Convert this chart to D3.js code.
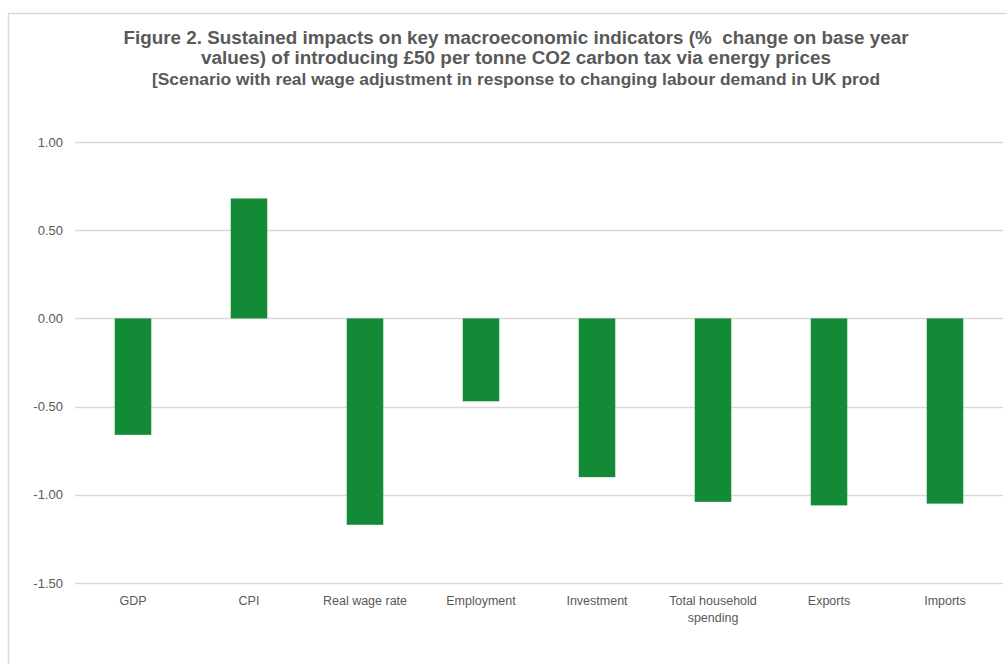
<!DOCTYPE html>
<html><head><meta charset="utf-8">
<script src="https://cdn.jsdelivr.net/npm/d3@7/dist/d3.min.js"></script>
<style>body{margin:0;background:#fff}svg{display:block}</style>
</head><body><svg id="c" width="1007" height="664"></svg>
<script>
const titleLines = [
  "Figure 2. Sustained impacts on key macroeconomic indicators (%\u00a0 change on base year",
  "values) of introducing £50 per tonne CO2 carbon tax via energy prices",
  "[Scenario with real wage adjustment in response to changing labour demand in UK prod"
];
const categories = ["GDP","CPI","Real wage rate","Employment","Investment","Total household spending","Exports","Imports"];
const categoryLines = [["GDP"],["CPI"],["Real wage rate"],["Employment"],["Investment"],["Total household","spending"],["Exports"],["Imports"]];
const values = [-0.66, 0.68, -1.17, -0.47, -0.90, -1.04, -1.06, -1.05];
const yTicks = [1.0, 0.5, 0.0, -0.5, -1.0, -1.5];

const svg = d3.select("#c");
const grey = "#595959";
// frame
svg.append("path").attr("d","M8.5,664 L8.5,13.5 L1007,13.5").attr("fill","none").attr("stroke","#d9d9d9").attr("stroke-width",1.5);

// title
const tl = svg.append("g").attr("font-family","Liberation Sans, Arial, sans-serif").attr("font-weight","bold").attr("fill",grey).attr("text-anchor","middle");
const tSpecs = [{y:44,size:18,len:785},{y:64,size:18,len:630},{y:85,size:16,len:728}];
titleLines.forEach((t,i)=>{
  tl.append("text").attr("x",516).attr("y",tSpecs[i].y).attr("font-size",tSpecs[i].size)
    .attr("textLength",tSpecs[i].len).attr("lengthAdjust","spacingAndGlyphs").text(t);
});

const x = d3.scaleBand().domain(categories).range([75,1003]).paddingInner(0.685).paddingOuter(0.3425);
const y = d3.scaleLinear().domain([-1.5,1.0]).range([583,142]);

// gridlines
svg.append("g").selectAll("line").data(yTicks).join("line")
  .attr("x1",75).attr("x2",1003).attr("y1",d=>Math.round(y(d))+0.5).attr("y2",d=>Math.round(y(d))+0.5)
  .attr("stroke","#d9d9d9").attr("stroke-width",1.3);

// y labels
svg.append("g").selectAll("text").data(yTicks).join("text")
  .attr("x",63).attr("y",d=>y(d)).attr("dy","0.35em").attr("text-anchor","end")
  .attr("font-family","Liberation Sans, Arial, sans-serif").attr("font-size",13).attr("fill",grey)
  .text(d=>d3.format(".2f")(d).replace("−","-"));

// bars
svg.append("g").selectAll("rect").data(values).join("rect")
  .attr("x",(d,i)=>x(categories[i])).attr("width",x.bandwidth())
  .attr("y",d=>y(Math.max(0,d))).attr("height",d=>Math.abs(y(d)-y(0)))
  .attr("fill","#138b36");

// category labels
const cg = svg.append("g").attr("font-family","Liberation Sans, Arial, sans-serif").attr("font-size",12.5).attr("fill",grey).attr("text-anchor","middle");
categories.forEach((c,i)=>{
  const t = cg.append("text").attr("x",x(c)+x.bandwidth()/2).attr("y",605);
  categoryLines[i].forEach((l,j)=>t.append("tspan").attr("x",x(c)+x.bandwidth()/2).attr("dy",j?17:0).text(l));
});
</script></body></html>
